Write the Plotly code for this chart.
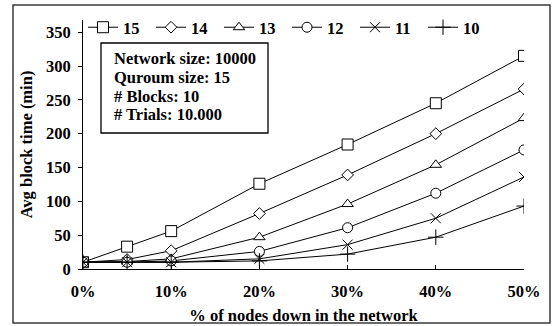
import plotly.graph_objects as go

# Percentage of nodes down in the network
pct_down = [0, 5, 10, 20, 30, 40, 50]

# Average block time (min) per quorum-threshold series
series_names = ["15", "14", "13", "12", "11", "10"]
t15 = [10, 33, 56, 126, 184, 245, 315]
t14 = [10, 14, 27, 82, 139, 200, 266]
t13 = [10, 11, 15, 47, 96, 154, 223]
t12 = [10, 10, 12, 26, 61, 112, 176]
t11 = [10, 10, 10, 15, 36, 75, 136]
t10 = [10, 10, 10, 12, 22, 47, 93]
series_values = [t15, t14, t13, t12, t11, t10]

x_ticks = [0, 10, 20, 30, 40, 50]
x_tick_labels = ["0%", "10%", "20%", "30%", "40%", "50%"]
y_ticks = [0, 50, 100, 150, 200, 250, 300, 350]

info_lines = ["Network size: 10000", "Quroum size: 15", "# Blocks: 10", "# Trials: 10.000"]

symbols = ["square", "diamond", "triangle-up", "circle", "x-thin-open", "cross-thin-open"]
fills = ["white", "white", "white", "white", "black", "black"]
sizes = [11, 9, 10, 10, 10, 11]

FONT = "Liberation Serif"
FS = 16.5

fig = go.Figure()
for name, vals, sym, fill, sz in zip(series_names, series_values, symbols, fills, sizes):
    fig.add_trace(go.Scatter(
        x=pct_down, y=vals, name=name, mode="lines+markers",
        line=dict(color="black", width=1),
        marker=dict(symbol=sym, size=sz, color=fill,
                    line=dict(color="black", width=1)),
    ))

# plot area spans pixels x 83..524, y 20..269
L, R, T, B = 83, 28, 20, 57
W, H = 552, 326
pw, ph = W - L - R, H - T - B


def px(xp):
    return (xp - L) / pw


def py(yp):
    return (H - B - yp) / ph


shapes = [
    # outer frame
    dict(type="rect", xref="paper", yref="paper",
         x0=px(13), x1=px(550), y0=py(323), y1=py(5),
         line=dict(color="#3a3a3a", width=1.5), fillcolor="rgba(0,0,0,0)"),
    # info box
    dict(type="rect", xref="paper", yref="paper",
         x0=px(101), x1=px(268), y0=py(133), y1=py(43),
         line=dict(color="black", width=1.3), fillcolor="white"),
]

# one annotation per info line, 19 px apart
annotations = [
    dict(xref="paper", yref="paper", x=px(112), y=py(58 + 19 * i),
         xanchor="left", yanchor="middle", align="left", showarrow=False,
         text=line,
         font=dict(family=FONT, size=FS, color="black", weight="bold"))
    for i, line in enumerate(info_lines)
]

fig.update_layout(
    width=W, height=H,
    margin=dict(l=L, r=R, t=T, b=B, autoexpand=False),
    paper_bgcolor="white", plot_bgcolor="white",
    font=dict(family=FONT, size=FS, color="black", weight="bold"),
    showlegend=True,
    legend=dict(orientation="h", x=px(83), y=py(10), xanchor="left", yanchor="top",
                bgcolor="rgba(0,0,0,0)", entrywidth=23, entrywidthmode="pixels",
                font=dict(family=FONT, size=FS, color="black", weight="bold"),
                itemwidth=30, tracegroupgap=0),
    shapes=shapes,
    annotations=annotations,
    xaxis=dict(range=[0, 50], tickvals=x_ticks, ticktext=x_tick_labels,
               showgrid=False, zeroline=False, showline=True, automargin=False,
               linecolor="black", linewidth=1,
               ticks="inside", ticklen=4, tickcolor="black",
               ticklabelstandoff=7,
               title=dict(text="% of nodes down in the network", standoff=9,
                          font=dict(family=FONT, size=FS, weight="bold"))),
    yaxis=dict(range=[0, 368], tickvals=y_ticks,
               showgrid=False, zeroline=False, showline=True, automargin=False,
               linecolor="black", linewidth=1,
               ticks="outside", ticklen=4, tickcolor="black",
               ticklabelstandoff=4,
               title=dict(text="Avg block time (min)", standoff=9,
                          font=dict(family=FONT, size=FS, weight="bold"))),
)

fig.write_html("out.html")
